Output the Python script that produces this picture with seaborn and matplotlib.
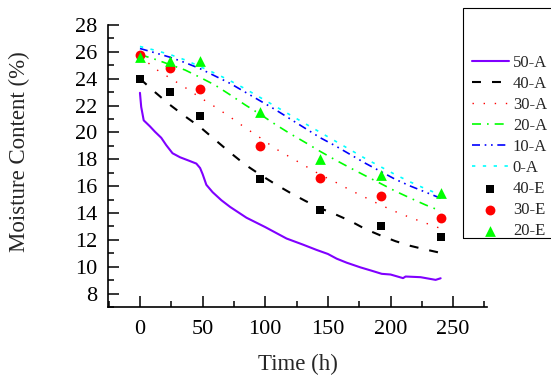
import matplotlib
matplotlib.use("Agg")
import matplotlib.pyplot as plt
from matplotlib.ticker import MultipleLocator
from matplotlib.patches import Rectangle
import seaborn as sns

# model curves (A) sampled every 12 h
t_model = [0, 12, 24, 36, 48, 60, 72, 84, 96, 108, 120, 132, 144, 156, 168, 180, 192, 204, 216, 228, 240]
a40 = [24.0, 23.0, 22.05, 21.2, 20.4, 19.45, 18.5, 17.6, 16.85, 16.15, 15.5, 14.9, 14.35, 13.9, 13.4,
       12.8, 12.33, 11.9, 11.55, 11.28, 11.03]
a30 = [25.7, 24.75, 24.05, 23.35, 22.6, 21.9, 21.15, 20.35, 19.6, 18.8, 18.15, 17.5, 16.85, 16.3, 15.7,
       15.15, 14.6, 14.1, 13.65, 13.25, 12.85]
a20 = [25.8, 25.45, 25.05, 24.65, 24.1, 23.52, 22.8, 22.05, 21.35, 20.6, 19.9, 19.25, 18.58, 17.95, 17.35,
       16.77, 16.2, 15.62, 15.1, 14.6, 14.15]
a10 = [26.25, 25.93, 25.6, 25.2, 24.75, 24.2, 23.65, 23.0, 22.35, 21.7, 21.0, 20.3, 19.6, 19.0, 18.35,
       17.7, 17.1, 16.5, 16.0, 15.55, 15.1]
a0 = [26.4, 26.12, 25.8, 25.4, 24.9, 24.4, 23.85, 23.25, 22.6, 21.95, 21.3, 20.65, 20.0, 19.35, 18.7,
      18.05, 17.45, 16.85, 16.3, 15.8, 15.35]

# 50-A curve, irregular sampling
t50 = [0, 1, 3, 8, 12, 17, 21, 26, 32, 39, 45, 48, 50, 53, 58, 65, 72, 85, 100, 117, 130, 141, 150, 157,
       165, 176, 185, 193, 200, 210, 212, 224, 236, 240]
a50 = [22.95, 21.9, 20.9, 20.45, 20.05, 19.6, 19.05, 18.45, 18.15, 17.9, 17.68, 17.35, 16.9, 16.1, 15.55,
       14.95, 14.45, 13.65, 12.95, 12.1, 11.65, 11.25, 10.95, 10.6, 10.3, 9.95, 9.7, 9.47, 9.42, 9.15,
       9.27, 9.22, 9.02, 9.14]

# experiments (E)
t_exp = [0, 24, 48, 96, 144, 192, 240]
e40 = [24.0, 23.0, 21.25, 16.5, 14.25, 13.0, 12.2]
e30 = [25.8, 24.8, 23.2, 19.0, 16.6, 15.3, 13.6]
e20 = [25.6, 25.35, 25.3, 21.5, 18.0, 16.8, 15.5]

sns.set_style("ticks")
plt.rcParams["font.family"] = ["Liberation Serif", "DejaVu Serif"]

fig = plt.figure(figsize=(5.51, 3.87), dpi=100)
ax = fig.add_axes([108 / 551, 1 - 307 / 387, 379 / 551, 282 / 387])

sns.lineplot(x=t50, y=a50, color="#8000ff", lw=1.5, label="50-A", ax=ax, estimator=None)
sns.lineplot(x=t_model, y=a40, color="black", lw=1.5, linestyle=(0, (4.3, 5.3)), label="40-A", ax=ax, estimator=None)
sns.lineplot(x=t_model, y=a30, color="#ff0000", lw=1.0, linestyle=(0, (1, 7)), label="30-A", ax=ax, estimator=None)
sns.lineplot(x=t_model, y=a20, color="#00ff00", lw=1.2, linestyle=(0, (5.4, 3.6, 1, 3.6)), label="20-A", ax=ax, estimator=None)
sns.lineplot(x=t_model, y=a10, color="#0000ff", lw=1.2, linestyle=(0, (4.8, 2.8, 1, 2.8, 1, 2.8)), label="10-A", ax=ax, estimator=None)
sns.lineplot(x=t_model, y=a0, color="#00ffff", lw=1.2, linestyle=(0, (2, 4.5)), label="0-A", ax=ax, estimator=None)
sns.scatterplot(x=t_exp, y=e40, color="black", marker="s", s=36, linewidth=0, label="40-E", ax=ax, zorder=5)
sns.scatterplot(x=t_exp, y=e30, color="#ff0000", marker="o", s=50, linewidth=0, label="30-E", ax=ax, zorder=5)
sns.scatterplot(x=t_exp, y=e20, color="#00ff00", marker="^", s=60, linewidth=0, label="20-E", ax=ax, zorder=5)

if ax.get_legend() is not None:
    ax.get_legend().remove()

ax.set_xlim(-25.5, 277)
ax.set_ylim(7, 28)
ax.xaxis.set_major_locator(MultipleLocator(50))
ax.xaxis.set_minor_locator(MultipleLocator(25))
ax.yaxis.set_major_locator(MultipleLocator(2))
ax.yaxis.set_minor_locator(MultipleLocator(1))
ax.tick_params(which="both", direction="in", width=1.1, colors="black")
ax.tick_params(which="major", length=8, labelsize=16)
ax.tick_params(axis="x", which="major", pad=9)
ax.tick_params(axis="y", which="major", pad=8)
ax.tick_params(which="minor", length=4)
sns.despine(ax=ax)
for s in ["left", "bottom"]:
    ax.spines[s].set_linewidth(1.2)
    ax.spines[s].set_color("black")

ax.set_xlabel("Time (h)", fontsize=16.5, labelpad=11)
ax.set_ylabel("Moisture Content (%)", fontsize=16.5)
ax.yaxis.set_label_coords(-0.205, 0.55)

handles, labels = ax.get_legend_handles_labels()
fig.legend(handles, labels, loc="upper left", bbox_to_anchor=(472 / 551, 1 - 55 / 387),
           bbox_transform=fig.transFigure, frameon=False, fontsize=12, handlelength=2.2,
           handletextpad=0.25, labelspacing=0.3, borderpad=0, borderaxespad=0)
fig.patches.append(Rectangle((463 / 551, 1 - 238 / 387), 0.2, 230 / 387, transform=fig.transFigure,
                             fill=False, edgecolor="black", lw=0.8))

fig.savefig("out.png", dpi=100)
